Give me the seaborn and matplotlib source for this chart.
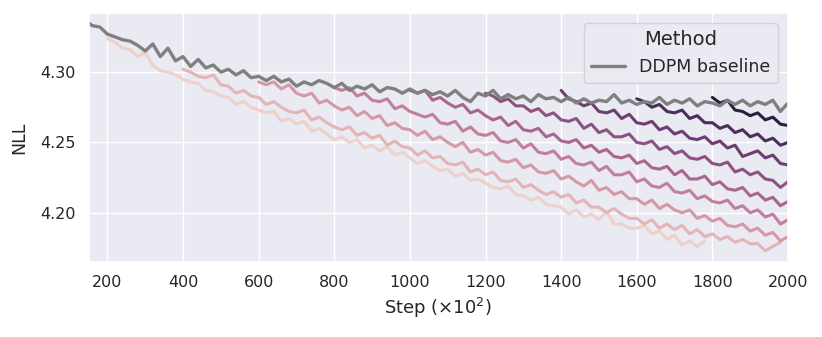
import numpy as np
import pandas as pd
import seaborn as sns
import matplotlib
matplotlib.use("Agg")
import matplotlib.pyplot as plt

'''
    -> NLL vs training step
    -> DDPM baseline + runs branched off the baseline at different steps
'''

# step spacing of the logged values (in units of 1e2 steps)
STEP = 20

# DDPM baseline (first point at 150, then every 20 from 160)
baseline_steps = [150] + list(range(160, 2001, STEP))
baseline_nll = [
    4.335, 4.333, 4.332, 4.327, 4.325, 4.323, 4.322, 4.319, 4.315, 4.320,
    4.311, 4.317, 4.308, 4.311, 4.304, 4.309, 4.303, 4.305, 4.300, 4.302,
    4.298, 4.301, 4.296, 4.297, 4.294, 4.297, 4.293, 4.295, 4.290, 4.293,
    4.291, 4.294, 4.292, 4.289, 4.292, 4.287, 4.290, 4.288, 4.291, 4.286,
    4.289, 4.288, 4.285, 4.288, 4.285, 4.287, 4.284, 4.286, 4.283, 4.287,
    4.282, 4.279, 4.285, 4.283, 4.287, 4.281, 4.284, 4.281, 4.283, 4.279,
    4.284, 4.281, 4.282, 4.279, 4.282, 4.278, 4.281, 4.278, 4.280, 4.279,
    4.284, 4.278, 4.280, 4.277, 4.279, 4.278, 4.282, 4.277, 4.280, 4.278,
    4.281, 4.276, 4.279, 4.278, 4.276, 4.280, 4.277, 4.280, 4.276, 4.279,
    4.277, 4.280, 4.272, 4.278,
]

# branched runs, keyed by the step they start from
run_starts = [200, 400, 600, 800, 1000, 1200, 1400, 1600, 1800]

nll_200 = [
    4.324, 4.321, 4.317, 4.316, 4.311, 4.314, 4.305, 4.301, 4.300, 4.298,
    4.295, 4.293, 4.292, 4.287, 4.286, 4.283, 4.282, 4.277, 4.279, 4.275,
    4.273, 4.271, 4.272, 4.265, 4.267, 4.263, 4.265, 4.258, 4.260, 4.256,
    4.252, 4.254, 4.250, 4.252, 4.246, 4.248, 4.244, 4.247, 4.241, 4.243,
    4.239, 4.235, 4.237, 4.233, 4.230, 4.231, 4.226, 4.228, 4.223, 4.224,
    4.221, 4.218, 4.217, 4.219, 4.213, 4.212, 4.209, 4.211, 4.206, 4.205,
    4.204, 4.199, 4.202, 4.197, 4.199, 4.195, 4.201, 4.192, 4.192, 4.189,
    4.189, 4.191, 4.185, 4.187, 4.181, 4.184, 4.177, 4.180, 4.176, 4.180,
]
nll_400 = [
    4.302, 4.300, 4.297, 4.296, 4.298, 4.291, 4.290, 4.285, 4.287, 4.283,
    4.282, 4.277, 4.279, 4.275, 4.272, 4.271, 4.273, 4.266, 4.268, 4.264,
    4.261, 4.259, 4.261, 4.255, 4.257, 4.253, 4.255, 4.248, 4.251, 4.247,
    4.246, 4.241, 4.244, 4.239, 4.240, 4.235, 4.234, 4.236, 4.229, 4.231,
    4.227, 4.229, 4.223, 4.222, 4.224, 4.218, 4.220, 4.216, 4.213, 4.215,
    4.211, 4.213, 4.207, 4.209, 4.204, 4.204, 4.200, 4.203, 4.199, 4.196,
    4.196, 4.192, 4.195, 4.189, 4.192, 4.188, 4.191, 4.185, 4.188, 4.183,
    4.185, 4.181, 4.183, 4.179, 4.181, 4.178, 4.178, 4.173, 4.176, 4.179,
]
nll_600 = [
    4.293, 4.291, 4.293, 4.288, 4.291, 4.285, 4.283, 4.285, 4.278, 4.280,
    4.276, 4.273, 4.275, 4.269, 4.272, 4.267, 4.269, 4.262, 4.264, 4.260,
    4.259, 4.255, 4.258, 4.252, 4.254, 4.250, 4.247, 4.250, 4.243, 4.245,
    4.241, 4.243, 4.237, 4.236, 4.238, 4.232, 4.234, 4.229, 4.228, 4.230,
    4.224, 4.226, 4.222, 4.219, 4.223, 4.216, 4.218, 4.213, 4.215, 4.210,
    4.210, 4.206, 4.209, 4.203, 4.206, 4.202, 4.200, 4.202, 4.196, 4.198,
    4.194, 4.196, 4.191, 4.190, 4.192, 4.187, 4.189, 4.184, 4.186, 4.180,
    4.183,
]
nll_800 = [
    4.289, 4.287, 4.289, 4.283, 4.285, 4.280, 4.279, 4.281, 4.274, 4.276,
    4.272, 4.270, 4.268, 4.270, 4.264, 4.263, 4.265, 4.258, 4.261, 4.256,
    4.255, 4.257, 4.251, 4.250, 4.252, 4.246, 4.249, 4.243, 4.242, 4.244,
    4.238, 4.240, 4.235, 4.234, 4.236, 4.230, 4.233, 4.227, 4.227, 4.229,
    4.222, 4.224, 4.219, 4.218, 4.221, 4.215, 4.214, 4.216, 4.210, 4.212,
    4.208, 4.207, 4.209, 4.203, 4.205, 4.200, 4.202, 4.197, 4.199, 4.192,
    4.195,
]
nll_1000 = [
    4.287, 4.285, 4.287, 4.280, 4.282, 4.278, 4.275, 4.277, 4.271, 4.273,
    4.269, 4.266, 4.268, 4.262, 4.265, 4.259, 4.258, 4.260, 4.254, 4.256,
    4.251, 4.250, 4.252, 4.246, 4.248, 4.243, 4.245, 4.240, 4.239, 4.241,
    4.235, 4.237, 4.232, 4.231, 4.233, 4.227, 4.230, 4.224, 4.224, 4.226,
    4.220, 4.222, 4.217, 4.216, 4.218, 4.212, 4.214, 4.209, 4.211, 4.205,
    4.208,
]
nll_1200 = [
    4.285, 4.283, 4.279, 4.281, 4.276, 4.276, 4.272, 4.274, 4.269, 4.271,
    4.266, 4.265, 4.267, 4.260, 4.263, 4.257, 4.259, 4.254, 4.254, 4.256,
    4.250, 4.249, 4.251, 4.245, 4.247, 4.242, 4.244, 4.239, 4.238, 4.240,
    4.235, 4.234, 4.236, 4.229, 4.231, 4.227, 4.229, 4.224, 4.223, 4.218,
    4.222,
]
nll_1400 = [
    4.287, 4.281, 4.279, 4.276, 4.278, 4.272, 4.271, 4.273, 4.267, 4.270,
    4.264, 4.263, 4.265, 4.259, 4.261, 4.256, 4.258, 4.253, 4.252, 4.254,
    4.249, 4.251, 4.246, 4.248, 4.240, 4.242, 4.244, 4.239, 4.241, 4.235,
    4.234,
]
nll_1600 = [
    4.281, 4.279, 4.275, 4.277, 4.272, 4.271, 4.273, 4.267, 4.269, 4.264,
    4.264, 4.260, 4.262, 4.257, 4.259, 4.254, 4.256, 4.251, 4.253, 4.248,
    4.250,
]
nll_1800 = [
    4.282, 4.278, 4.280, 4.273, 4.272, 4.269, 4.271, 4.266, 4.268, 4.263,
    4.262,
]

run_values = [nll_200, nll_400, nll_600, nll_800, nll_1000,
              nll_1200, nll_1400, nll_1600, nll_1800]


def build_runs_df(starts, values):
    # long-form frame: one row per logged point, hue = start step
    frames = []
    for start, vals in zip(starts, values):
        steps = start + STEP * np.arange(len(vals))
        frames.append(pd.DataFrame({'Step': steps, 'NLL': vals, 'Start': start}))
    return pd.concat(frames, ignore_index=True)


runs_df = build_runs_df(run_starts, run_values)
base_df = pd.DataFrame({'Step': baseline_steps, 'NLL': baseline_nll})

sns.set_theme(style="darkgrid", context="notebook")

fig = plt.figure(figsize=(8.22, 3.37), dpi=100)
ax = fig.add_axes([0.1077, 0.2226, 0.8509, 0.7388])

# branched runs (default sequential palette for numeric hue)
sns.lineplot(data=runs_df, x='Step', y='NLL', hue='Start', estimator=None,
             legend=False, linewidth=2.2, ax=ax)
# baseline
sns.lineplot(data=base_df, x='Step', y='NLL', color='gray', estimator=None,
             linewidth=2.4, label='DDPM baseline', ax=ax)

ax.set_xlim(150, 2000)
ax.set_ylim(4.165, 4.342)
ax.set_xticks(range(200, 2001, 200))
ax.set_yticks([4.20, 4.25, 4.30])
ax.tick_params(axis='both', labelsize=11.5)
ax.set_xlabel(r"Step ($\times 10^2$)", fontsize=13)
ax.set_ylabel("NLL", fontsize=12.5, labelpad=8)

leg = ax.legend(title='Method', loc='upper right', fontsize=12.5,
                title_fontsize=14, borderaxespad=0.6)

plt.savefig("out.png", dpi=100)
